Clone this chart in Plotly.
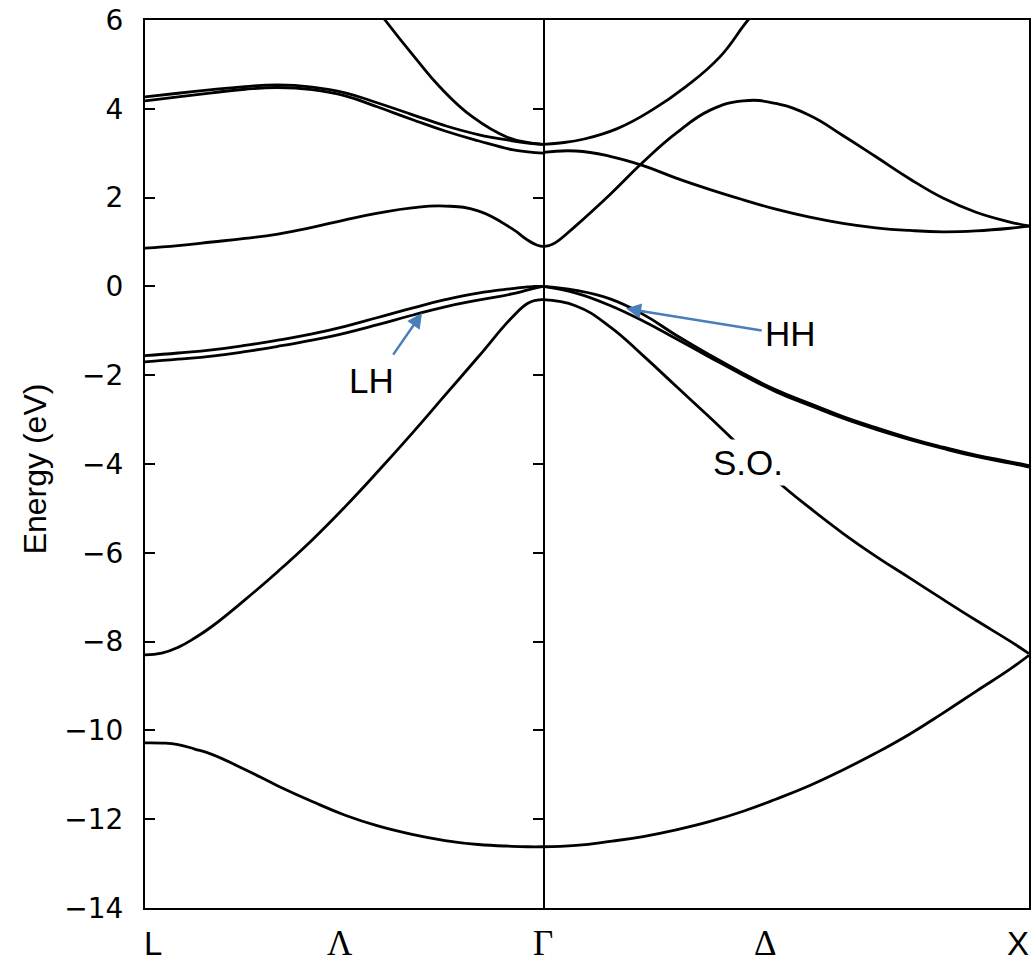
import plotly.graph_objects as go

# ---- Lambda line: L (k=0) -> Gamma (k=1) ----
k_lam = [0.0, 0.083, 0.168, 0.251, 0.334, 0.420, 0.503, 0.585, 0.671, 0.754, 0.837, 0.922, 0.962, 1.0]

lam_hh = [-1.56, -1.50, -1.43, -1.33, -1.21, -1.07, -0.90, -0.70, -0.49, -0.30, -0.15, -0.05, -0.01, 0.0]
lam_lh = [-1.70, -1.64, -1.57, -1.47, -1.35, -1.21, -1.05, -0.86, -0.65, -0.46, -0.31, -0.17, -0.08, 0.0]
lam_cb2a = [4.27, 4.35, 4.43, 4.50, 4.54, 4.49, 4.36, 4.13, 3.87, 3.62, 3.42, 3.28, 3.23, 3.20]
lam_cb2b = [4.18, 4.27, 4.36, 4.44, 4.48, 4.43, 4.29, 4.04, 3.76, 3.50, 3.28, 3.08, 3.03, 3.00]

k_lam_s = [0.0, 0.042, 0.083, 0.125, 0.168, 0.251, 0.334, 0.420, 0.503, 0.585, 0.671, 0.754, 0.837, 0.922, 0.962, 1.0]
lam_s_band = [-10.28, -10.285, -10.32, -10.42, -10.54, -10.88, -11.25, -11.60, -11.91, -12.15, -12.34, -12.48, -12.57, -12.61, -12.62, -12.62]

k_lam_so = [0.0, 0.042, 0.083, 0.125, 0.168, 0.251, 0.334, 0.420, 0.503, 0.585, 0.671, 0.754, 0.837, 0.922, 0.962, 0.985, 1.0]
lam_so = [-8.30, -8.26, -8.13, -7.92, -7.66, -7.06, -6.42, -5.71, -4.96, -4.17, -3.31, -2.45, -1.59, -0.70, -0.38, -0.31, -0.30]

k_lam_cb = [0.0, 0.083, 0.168, 0.251, 0.334, 0.420, 0.503, 0.585, 0.671, 0.754, 0.837, 0.922, 0.962, 0.988, 1.0]
lam_cb = [0.86, 0.92, 1.00, 1.08, 1.18, 1.33, 1.50, 1.65, 1.77, 1.81, 1.70, 1.30, 1.04, 0.92, 0.90]

k_lam_top = [0.570, 0.603, 0.683, 0.741, 0.824, 0.910, 0.962, 1.0]
lam_top = [6.40, 6.00, 5.10, 4.49, 3.81, 3.36, 3.24, 3.20]

# ---- Delta line: Gamma (k=0) -> X (k=1) ----
k_del = [0.0, 0.068, 0.138, 0.206, 0.274, 0.344, 0.412, 0.479, 0.549, 0.617, 0.685, 0.755, 0.823, 0.891, 0.961, 1.0]

del_s_band = [-12.62, -12.59, -12.50, -12.39, -12.24, -12.05, -11.82, -11.55, -11.24, -10.89, -10.51, -10.08, -9.61, -9.12, -8.62, -8.31]
del_so = [-0.30, -0.44, -0.91, -1.56, -2.25, -2.96, -3.67, -4.36, -4.99, -5.56, -6.08, -6.57, -7.05, -7.52, -7.99, -8.27]
del_hh = [0.00, -0.09, -0.28, -0.63, -1.10, -1.55, -1.96, -2.33, -2.64, -2.93, -3.18, -3.42, -3.62, -3.80, -3.95, -4.04]
del_lh = [0.00, -0.15, -0.43, -0.78, -1.18, -1.60, -2.00, -2.37, -2.68, -2.97, -3.22, -3.45, -3.65, -3.83, -3.98, -4.07]
del_b5 = [3.02, 3.05, 2.93, 2.72, 2.44, 2.18, 1.95, 1.74, 1.56, 1.42, 1.32, 1.26, 1.23, 1.25, 1.31, 1.36]

k_del_cb = [0.0, 0.012, 0.025, 0.068, 0.138, 0.206, 0.274, 0.344, 0.412, 0.479, 0.549, 0.617, 0.685, 0.755, 0.823, 0.891, 0.961, 1.0]
del_cb = [0.90, 0.92, 0.98, 1.37, 2.07, 2.80, 3.45, 3.97, 4.18, 4.12, 3.85, 3.40, 2.92, 2.42, 1.99, 1.67, 1.45, 1.36]

k_del_top = [0.0, 0.035, 0.085, 0.154, 0.224, 0.294, 0.364, 0.422, 0.457]
del_top = [3.20, 3.23, 3.32, 3.56, 3.97, 4.50, 5.17, 6.00, 6.40]

# symmetry points
sym_left = [("L", 0.02, "sans"), ("\u039b", 0.49, "serif"), ("\u0393", 1.0, "serif")]
sym_right = [("\u0394", 0.457, "serif"), ("X", 0.977, "sans")]

energy_ticks = list(range(-14, 7, 2))

BAND = dict(color="black", width=2.8, shape="spline", smoothing=1.3)

fig = go.Figure()

left_bands = [(k_lam_s, lam_s_band), (k_lam_so, lam_so), (k_lam, lam_hh), (k_lam, lam_lh),
              (k_lam_cb, lam_cb), (k_lam, lam_cb2a), (k_lam, lam_cb2b), (k_lam_top, lam_top)]
right_bands = [(k_del, del_s_band), (k_del, del_so), (k_del, del_hh), (k_del, del_lh),
               (k_del, del_b5), (k_del_cb, del_cb), (k_del_top, del_top)]

for ks, es in left_bands:
    fig.add_trace(go.Scatter(x=ks, y=es, mode="lines", line=BAND, xaxis="x", yaxis="y"))
for ks, es in right_bands:
    fig.add_trace(go.Scatter(x=ks, y=es, mode="lines", line=BAND, xaxis="x2", yaxis="y2"))

split = 398 / 884
x_common = dict(range=[0, 1], showline=True, linecolor="black", linewidth=2, mirror=True,
                showticklabels=False, ticks="", showgrid=False, zeroline=False, fixedrange=True)

fig.update_layout(
    width=1031, height=965,
    margin=dict(l=145, r=2, t=20, b=57),
    paper_bgcolor="white", plot_bgcolor="white",
    showlegend=False,
    xaxis=dict(domain=[0, split], anchor="y", **x_common),
    xaxis2=dict(domain=[split, 1], anchor="y2", **x_common),
    yaxis=dict(range=[-14, 6], anchor="x", tickvals=energy_ticks,
               ticks="inside", ticklen=10, tickwidth=2, tickcolor="black",
               showline=True, linecolor="black", linewidth=2, mirror="ticks",
               showgrid=False, zeroline=False, ticklabelstandoff=14,
               tickfont=dict(family="DejaVu Sans", size=28, color="black")),
    yaxis2=dict(range=[-14, 6], anchor="x2", matches="y", side="right",
                showline=True, linecolor="black", linewidth=2, mirror=False,
                ticks="", showticklabels=False, showgrid=False, zeroline=False),
)

annotations = []
fonts = {"sans": dict(family="Liberation Sans", size=33, color="black"),
         "serif": dict(family="Liberation Serif", size=35, color="black")}
for txt, k, fam in sym_left:
    annotations.append(dict(text=txt, x=k, xref="x", y=-0.0405, yref="paper",
                            showarrow=False, xanchor="center", yanchor="middle", font=fonts[fam]))
for txt, k, fam in sym_right:
    annotations.append(dict(text=txt, x=k, xref="x2", y=-0.0405, yref="paper",
                            showarrow=False, xanchor="center", yanchor="middle", font=fonts[fam]))

annotations.append(dict(text="Energy (eV)", textangle=-90, x=-0.1244, xref="paper", y=0.494, yref="paper",
                        showarrow=False, xanchor="center", yanchor="middle",
                        font=dict(family="Liberation Sans", size=32, color="black")))

label_font = dict(family="Liberation Sans", size=35, color="black")
arrow_color = "#4a7ebb"

# LH label and arrow
annotations.append(dict(text="LH", x=0.570, y=-2.11, xref="x", yref="y", showarrow=False, font=label_font))
annotations.append(dict(text="", x=0.696, y=-0.60, ax=0.621, ay=-1.57, xref="x", yref="y",
                        axref="x", ayref="y", showarrow=True, arrowhead=2, arrowsize=1.2,
                        arrowwidth=2.5, arrowcolor=arrow_color))
# HH label and arrow
annotations.append(dict(text="HH", x=0.510, y=-1.05, xref="x2", yref="y2", showarrow=False, font=label_font))
annotations.append(dict(text="", x=0.171, y=-0.50, ax=0.453, ay=-1.00, xref="x2", yref="y2",
                        axref="x2", ayref="y2", showarrow=True, arrowhead=2, arrowsize=1.2,
                        arrowwidth=2.5, arrowcolor=arrow_color))
# split-off band label
annotations.append(dict(text="S.O.", x=0.422, y=-3.97, xref="x2", yref="y2", showarrow=False,
                        font=label_font, bgcolor="white", borderpad=3))

fig.update_layout(annotations=annotations)

fig.write_html("out.html")
